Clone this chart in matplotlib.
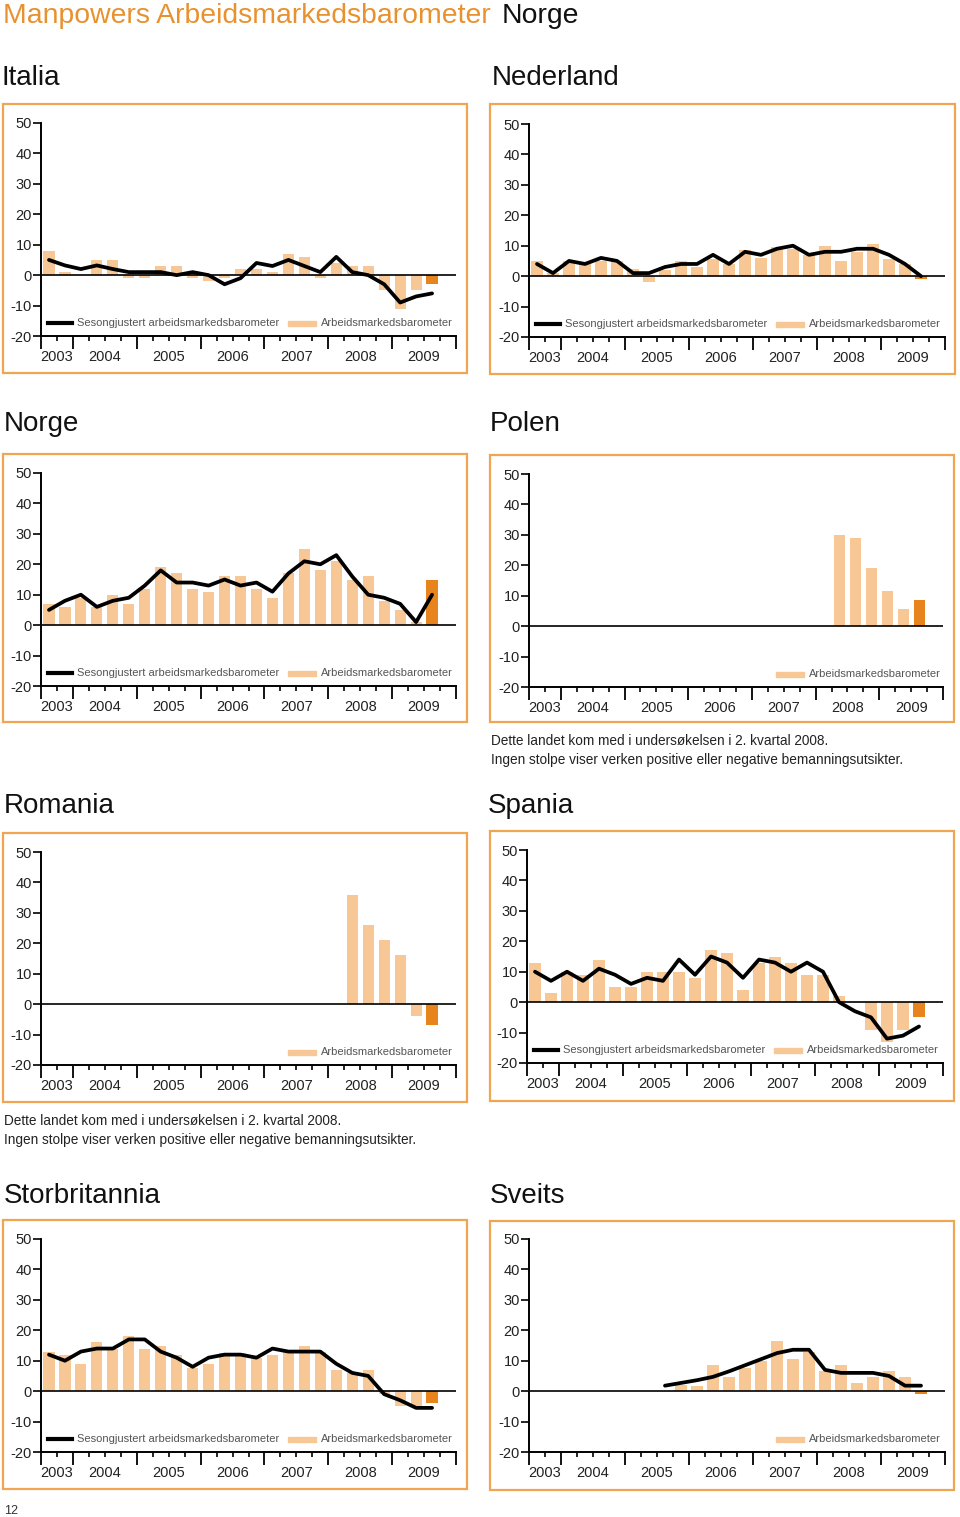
import numpy as np
import matplotlib
matplotlib.use('Agg')
from matplotlib import pyplot as plt
from matplotlib.patches import Rectangle

plt.rcParams['font.family'] = ['Liberation Sans', 'DejaVu Sans']
plt.rcParams['axes.unicode_minus'] = False

nan = np.nan

# quarters 2003 Q3 .. 2009 Q3 (25 values), axis runs to end of 2009
years = ['2003', '2004', '2005', '2006', '2007', '2008', '2009']
year_bounds = [0, 2, 6, 10, 14, 18, 22, 26]

italia_bars = [8, 1, 0, 5, 5, -1, -1, 3, 3, -1, -2, -1, 2, 2, 1, 7, 6, -1, 4, 3, 3, -5, -11, -5, -3]
italia_line = [5, 3.2, 2, 3.2, 2, 1, 1, 1, 0, 1, 0, -3, -1, 4, 3, 5, 3, 1, 6, 1, 0, -3, -9, -7, -6]

nederland_bars = [5, 1, 5, 4, 5, 5, 2.5, -2, 2, 5, 3, 5.5, 4, 8.5, 6, 9.5, 9, 7, 10, 5, 8, 10.5, 5.5, 4, -1]
nederland_line = [4, 1, 5, 4, 6, 5, 1, 1, 3, 4, 4, 7, 4, 8, 7, 9, 10, 7, 8, 8, 9, 9, 7, 4, 0]

norge_bars = [7, 6, 9, 6, 10, 7, 12, 19, 17, 12, 11, 16, 16, 12, 9, 17, 25, 18, 21, 15, 16, 8, 5, 1, 15]
norge_line = [5, 8, 10, 6, 8, 9, 13, 18, 14, 14, 13, 15, 13, 14, 11, 17, 21, 20, 23, 16, 10, 9, 7, 1, 10]

polen_bars = [nan] * 19 + [30, 29, 19, 11.5, 5.7, 8.6]

romania_bars = [nan] * 19 + [36, 26, 21, 16, -4, -7]

spania_bars = [13, 3, 10, 9, 14, 5, 5, 10, 10, 10, 8, 17, 16, 4, 13, 15, 13, 9, 9, 2, 0, -9, -13, -9, -5]
spania_line = [10, 7, 10, 7, 11, 9, 6, 8, 7, 14, 9, 15, 13, 8, 14, 13, 10, 13, 10, 0, -3, -5, -12, -11, -8]

storbritannia_bars = [13, 12, 9, 16, 14, 18, 14, 15, 12, 7.5, 9, 12.5, 12.5, 11, 12, 13, 15, 13, 7, 6, 7, -1, -5, -5, -4]
storbritannia_line = [12, 10, 13, 14, 14, 17, 17, 13, 11, 8, 11, 12, 12, 11, 14, 13, 13, 13, 9, 6, 5, -1, -3, -5.5, -5.5]

sveits_bars = [nan] * 9 + [2, 1.6, 8.7, 4.7, 7.6, 10, 16.6, 10.7, 12.7, 6.5, 8.7, 2.7, 4.7, 6.5, 4.7, -1]
sveits_line = [nan] * 8 + [1.8, 2.7, 3.6, 4.7, 6.5, 8.5, 10.5, 12.5, 13.6, 13.6, 7, 6, 6, 6, 5, 1.8, 1.8]

legend_labels = ['Sesongjustert arbeidsmarkedsbarometer', 'Arbeidsmarkedsbarometer']
note_lines = ['Dette landet kom med i undersøkelsen i 2. kvartal 2008.',
              'Ingen stolpe viser verken positive eller negative bemanningsutsikter.']

LIGHT = '#F8C796'
DARK = '#E8841E'
BOX = '#F0A552'
TITLE_ORANGE = '#E8922F'
W, H = 960, 1517

# name, bars, line, axes px (left, top, right, bottom), box px, title px, line in legend, note
panels = [
    ('Italia', italia_bars, italia_line, (41, 123, 456, 336), (3, 104, 467, 373), (1, 78), True, False),
    ('Nederland', nederland_bars, nederland_line, (529, 124, 945, 337), (490, 104, 955, 374), (492, 78), True, False),
    ('Norge', norge_bars, norge_line, (41, 473, 456, 686), (3, 454, 467, 722), (4, 424), True, False),
    ('Polen', polen_bars, None, (529, 474, 943, 687), (490, 455, 954, 722), (490, 424), False, True),
    ('Romania', romania_bars, None, (41, 852, 456, 1065), (3, 833, 467, 1102), (4, 806), False, True),
    ('Spania', spania_bars, spania_line, (527, 850, 943, 1063), (490, 831, 954, 1101), (488, 806), True, False),
    ('Storbritannia', storbritannia_bars, storbritannia_line, (41, 1239, 456, 1452), (3, 1220, 467, 1489), (4, 1196), True, False),
    ('Sveits', sveits_bars, sveits_line, (529, 1239, 945, 1452), (490, 1221, 954, 1490), (490, 1196), False, False),
]


def fx(x):
    return x / W


def fy(y):
    return 1 - y / H


fig = plt.figure(figsize=(9.6, 15.17), dpi=100)

fig.text(fx(3), fy(16), 'Manpowers Arbeidsmarkedsbarometer', color=TITLE_ORANGE,
         fontsize=20.4, va='center', ha='left')
fig.text(fx(502), fy(16), 'Norge', color='#111111', fontsize=20.4, va='center', ha='left')
fig.text(fx(4), fy(1511), '12', color='#333333', fontsize=9, va='center', ha='left')

for name, bars, line, (l, t, r, b), (bx0, by0, bx1, by1), (tx, ty), leg_line, note in panels:
    # orange frame
    fig.add_artist(Rectangle((fx(bx0), fy(by1)), fx(bx1 - bx0), (by1 - by0) / H,
                             transform=fig.transFigure, fill=False,
                             edgecolor=BOX, linewidth=1.6))
    fig.text(fx(tx), fy(ty), name, fontsize=20, color='#111111', va='center', ha='left')

    ax = fig.add_axes([fx(l), fy(b), fx(r - l), (b - t) / H])
    axw, axh = r - l, b - t
    n = len(bars)
    xs = np.arange(n) + 0.5
    bars = np.array(bars, dtype=float)
    colors = [LIGHT] * (n - 1) + [DARK]
    ax.bar(xs, bars, width=0.7, color=colors, zorder=2)
    ax.axhline(0, color='black', linewidth=1.2, zorder=3)
    if line is not None:
        ax.plot(xs, np.array(line, dtype=float), color='black', linewidth=2.7,
                solid_joinstyle='round', solid_capstyle='round', zorder=4)

    ax.set_xlim(0, 26)
    ax.set_ylim(-20, 50)
    for s in ['top', 'right']:
        ax.spines[s].set_visible(False)
    for s in ['left', 'bottom']:
        ax.spines[s].set_linewidth(1.4)
    ax.set_yticks(range(-20, 51, 10))
    ax.tick_params(axis='y', direction='out', length=5.5, width=1.2,
                   labelsize=10.5, pad=1, labelcolor='#222222')
    ax.set_xticks(year_bounds)
    ax.set_xticks([q for q in range(27) if q not in year_bounds], minor=True)
    ax.set_xticklabels([])
    ax.tick_params(axis='x', which='major', direction='out', length=9.5, width=1.3)
    ax.tick_params(axis='x', which='minor', direction='out', length=3.8, width=1.2)
    for i, yr in enumerate(years):
        xc = (year_bounds[i] + year_bounds[i + 1]) / 2
        ax.text(xc, -21 / axh, yr, transform=ax.get_xaxis_transform(),
                ha='center', va='center', fontsize=10.5, color='#222222')

    # legend drawn by hand
    ly = 13 / axh
    if leg_line:
        ax.plot([7 / axw, 31 / axw], [ly, ly], transform=ax.transAxes,
                color='black', linewidth=3, clip_on=False, zorder=5)
        ax.text(36 / axw, ly, legend_labels[0],
                transform=ax.transAxes, fontsize=8, color='#555555', va='center')
    ax.add_patch(Rectangle((247 / axw, ly - 2.5 / axh), 28 / axw, 5 / axh,
                           transform=ax.transAxes, color=LIGHT, clip_on=False))
    ax.text(280 / axw, ly, legend_labels[1], transform=ax.transAxes,
            fontsize=8, color='#555555', va='center')

    if note:
        fig.text(fx(bx0 + 1), fy(by1 + 19), note_lines[0], fontsize=9.8,
                 color='#222222', va='center')
        fig.text(fx(bx0 + 1), fy(by1 + 38), note_lines[1], fontsize=9.8,
                 color='#222222', va='center')

fig.savefig('out.png', dpi=100)
